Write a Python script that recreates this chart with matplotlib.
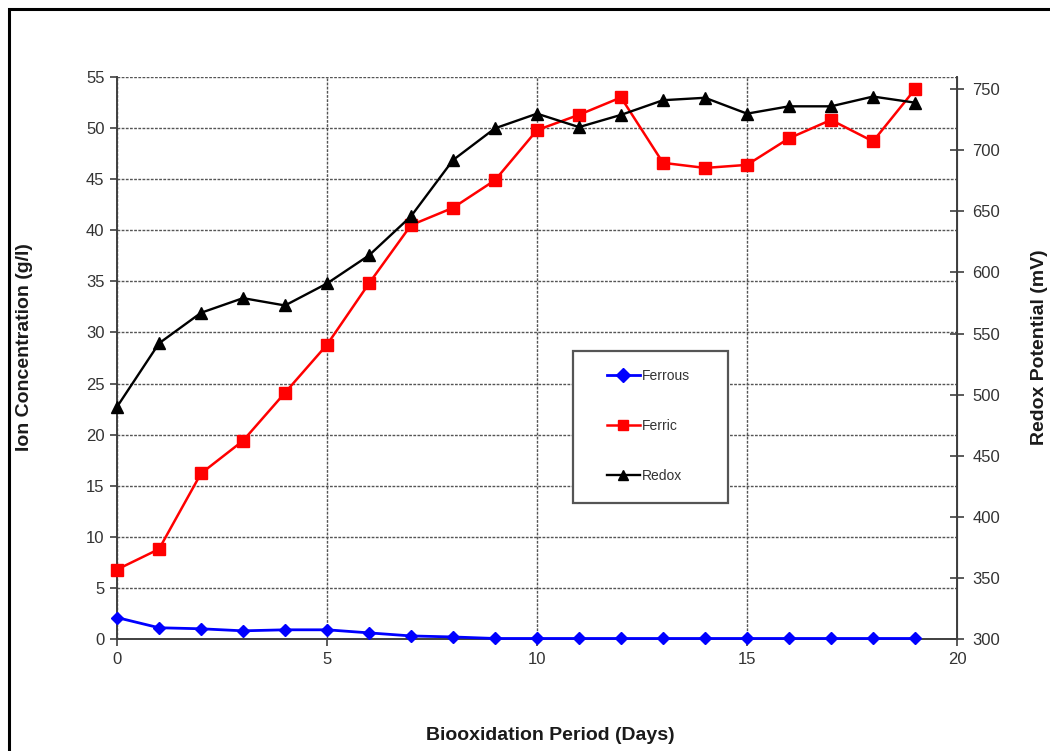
import matplotlib
matplotlib.use("Agg")
import matplotlib.pyplot as plt
from matplotlib.patches import Rectangle

plt.rcParams['font.family'] = ['Liberation Sans', 'DejaVu Sans']

days = list(range(20))
ferrous = [2.1, 1.1, 1.0, 0.8, 0.9, 0.9, 0.6, 0.3, 0.2, 0.05,
           0.05, 0.05, 0.05, 0.05, 0.05, 0.05, 0.05, 0.05, 0.05, 0.05]
ferric = [6.8, 8.8, 16.2, 19.4, 24.1, 28.8, 34.8, 40.5, 42.2, 44.9,
          49.8, 51.3, 53.0, 46.6, 46.1, 46.4, 49.0, 50.8, 48.7, 53.8]
redox = [490, 542, 567, 579, 573, 591, 614, 646, 692, 718,
         730, 719, 729, 741, 743, 730, 736, 736, 744, 739]

x_ticks = [0, 5, 10, 15, 20]
left_ticks = list(range(0, 56, 5))
right_ticks = list(range(300, 751, 50))

W, H = 1050, 751
fig = plt.figure(figsize=(W / 100, H / 100), dpi=100)

# outer frame around the chart
fig.patches.append(Rectangle((9 / W, -0.05), 1.2, 1 - 9 / H + 0.05,
                             transform=fig.transFigure, fill=False,
                             edgecolor='black', linewidth=2.2, zorder=0))

ax = fig.add_axes([117 / W, 1 - 639 / H, 840 / W, (639 - 77) / H])
ax2 = ax.twinx()

tick_color = '#404040'

ax.set_xlim(0, 20)
ax.set_ylim(0, 55)
ax.set_xticks(x_ticks)
ax.set_yticks(left_ticks)
ax.tick_params(axis='both', direction='out', length=5, width=1.2,
               color=tick_color, labelsize=12, labelcolor='#333333', pad=4)
ax.grid(True, which='major', axis='both', linestyle=(0, (2, 1)),
        color='#555555', linewidth=1.0)
ax.set_axisbelow(True)
ax.spines['top'].set_visible(False)
for side in ['left', 'bottom']:
    ax.spines[side].set_color(tick_color)
    ax.spines[side].set_linewidth(1.4)

ax2.set_ylim(300, 760)
ax2.set_yticks(right_ticks)
ax2.tick_params(axis='y', direction='inout', length=10, width=1.2,
                color=tick_color, labelsize=12, labelcolor='#333333', pad=6)
ax2.spines['right'].set_color(tick_color)
ax2.spines['right'].set_linewidth(1.4)
for side in ['top', 'left', 'bottom']:
    ax2.spines[side].set_visible(False)

l1, = ax.plot(days, ferrous, color='#0000FF', marker='D', markersize=6,
              linewidth=2, label='Ferrous', clip_on=False, zorder=3)
l2, = ax.plot(days, ferric, color='#FF0000', marker='s', markersize=9,
              linewidth=1.8, label='Ferric', clip_on=False, zorder=3)
l3, = ax2.plot(days, redox, color='black', marker='^', markersize=8.5,
               linewidth=1.7, label='Redox', clip_on=False, zorder=3)

fig.text(25 / W, 1 - 347 / H, 'Ion Concentration (g/l)', fontsize=14,
         fontweight='bold', color='#1a1a1a', rotation=90,
         ha='center', va='center')
fig.text(1040 / W, 1 - 347 / H, 'Redox Potential (mV)', fontsize=14,
         fontweight='bold', color='#1a1a1a', rotation=90,
         ha='center', va='center')
fig.text(550 / W, 1 - 735 / H, 'Biooxidation Period (Days)', fontsize=14,
         fontweight='bold', color='#1a1a1a', ha='center', va='center')

# legend box
ax2.add_patch(Rectangle((573 / W, 1 - 503 / H), 155 / W, 152 / H,
                        transform=fig.transFigure, facecolor='white',
                        edgecolor='#555555', linewidth=1.6, zorder=9,
                        clip_on=False))
leg = ax2.legend(handles=[l1, l2, l3], loc='upper left',
                 bbox_to_anchor=(607 / W, 1 - 369 / H),
                 bbox_transform=fig.transFigure,
                 fontsize=10, frameon=False,
                 labelspacing=2.6, handlelength=2.35, handletextpad=0.15,
                 borderpad=0, borderaxespad=0)
leg.set_zorder(10)
for h in leg.legend_handles:
    h.set_markersize(7)
for t in leg.get_texts():
    t.set_color('#333333')

fig.savefig('out.png', dpi=100)
